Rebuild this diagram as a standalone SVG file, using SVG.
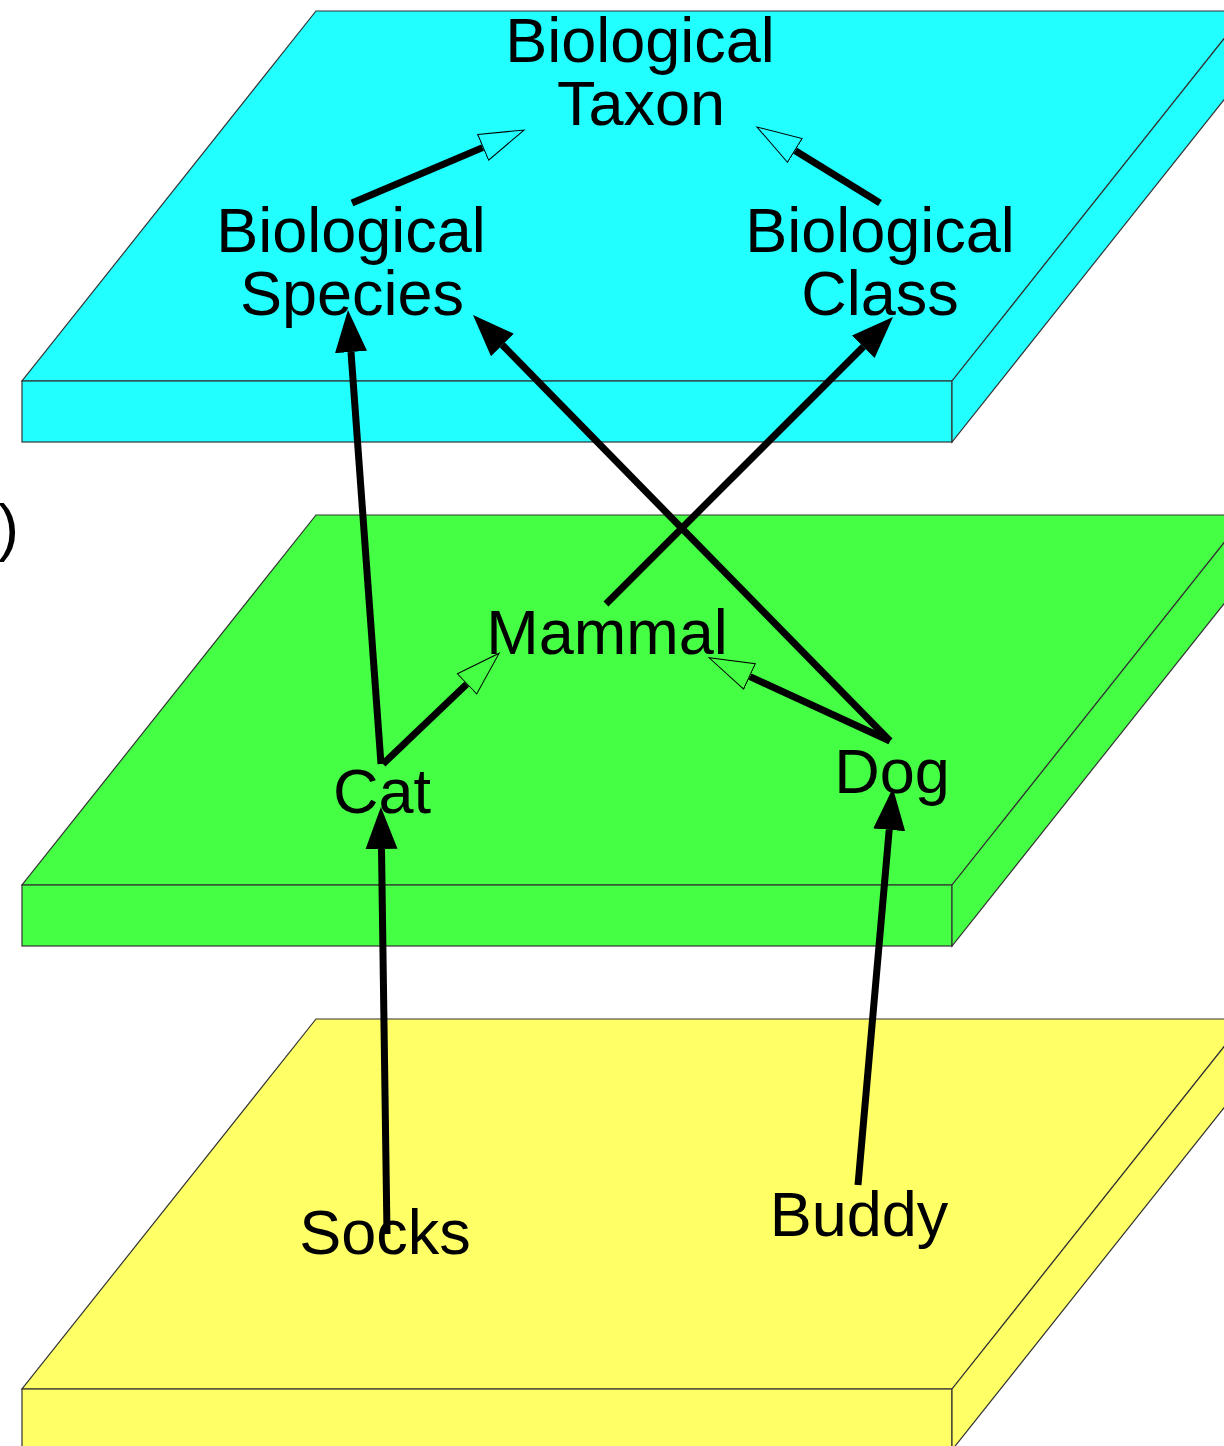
<svg xmlns="http://www.w3.org/2000/svg" width="1224" height="1446" viewBox="0 0 1224 1446">
  <style>
    .slab path, .slab rect { stroke: #333; stroke-width: 1.2; stroke-linejoin: miter; }
    .cyan { fill: #22FFFF; }
    .green { fill: #44FF44; }
    .yellow { fill: #FFFF66; }
    .label { font-family: "Liberation Sans", Arial, sans-serif; font-size: 63px; fill: #000; text-anchor: middle; }
    .edge { fill: none; stroke: #000; stroke-width: 7; }
    .inst { marker-end: url(#solid); }
    .gen { marker-end: url(#hollow); }
  </style>
  <defs>
    <marker id="solid" markerUnits="userSpaceOnUse" markerWidth="44" markerHeight="34" refX="0" refY="16" orient="auto">
      <path d="M0,0 L42,16 L0,32 Z" fill="#000"/>
    </marker>
    <marker id="hollow" markerUnits="userSpaceOnUse" markerWidth="47" markerHeight="32" refX="0" refY="15" orient="auto">
      <path d="M0.6,1 L45,15 L0.6,29 Z" fill="none" stroke="#000" stroke-width="1"/>
    </marker>
  </defs>

  <!-- Meta level slab -->
  <g id="layer-meta" class="slab">
    <path class="cyan" d="M316,11 L1246,11 L952,381 L22,381 Z"/>
    <rect class="cyan" x="22" y="381" width="930" height="61"/>
    <path class="cyan" d="M952,381 L1246,11 L1246,72 L952,442 Z"/>
  </g>

  <!-- Class level slab -->
  <g id="layer-class" class="slab">
    <path class="green" d="M316,515 L1246,515 L952,885 L22,885 Z"/>
    <rect class="green" x="22" y="885" width="930" height="61"/>
    <path class="green" d="M952,885 L1246,515 L1246,576 L952,946 Z"/>
  </g>

  <!-- Instance level slab -->
  <g id="layer-instance" class="slab">
    <path class="yellow" d="M316,1019 L1246,1019 L952,1389 L22,1389 Z"/>
    <rect class="yellow" x="22" y="1389" width="930" height="61"/>
    <path class="yellow" d="M952,1389 L1246,1019 L1246,1080 L952,1450 Z"/>
  </g>

  <text class="label" x="-2" y="549" style="text-anchor:start">)</text>

  <g id="node-biological-taxon">
    <text class="label" x="640" y="62">Biological</text>
    <text class="label" x="641" y="125">Taxon</text>
  </g>
  <g id="node-biological-species">
    <text class="label" x="351" y="252">Biological</text>
    <text class="label" x="352" y="315">Species</text>
  </g>
  <g id="node-biological-class">
    <text class="label" x="880" y="252">Biological</text>
    <text class="label" x="880" y="315">Class</text>
  </g>
  <g id="node-mammal">
    <text class="label" x="607" y="654">Mammal</text>
  </g>
  <g id="node-cat">
    <text class="label" x="382" y="813">Cat</text>
  </g>
  <g id="node-dog">
    <text class="label" x="892" y="793">Dog</text>
  </g>
  <g id="node-socks">
    <text class="label" x="385" y="1254">Socks</text>
  </g>
  <g id="node-buddy">
    <text class="label" x="859" y="1236">Buddy</text>
  </g>

  <g id="connectors">
    <!-- specialisation (hollow heads) -->
    <path class="edge gen" d="M352,203 L482.6,147.6"/>
    <path class="edge gen" d="M880,203 L795.3,150.7"/>
    <path class="edge gen" d="M383,764 L466.6,684.3"/>
    <path class="edge gen" d="M890,741 L750,676.6"/>
    <!-- instance-of (filled heads) -->
    <path class="edge inst" d="M381,764 L351,352"/>
    <path class="edge inst" d="M890,741 L502.4,345"/>
    <path class="edge inst" d="M606,604 L863.3,346.7"/>
    <path class="edge inst" d="M387,1234 L381.5,849"/>
    <path class="edge inst" d="M858,1185 L889.2,829.8"/>
  </g>
</svg>
